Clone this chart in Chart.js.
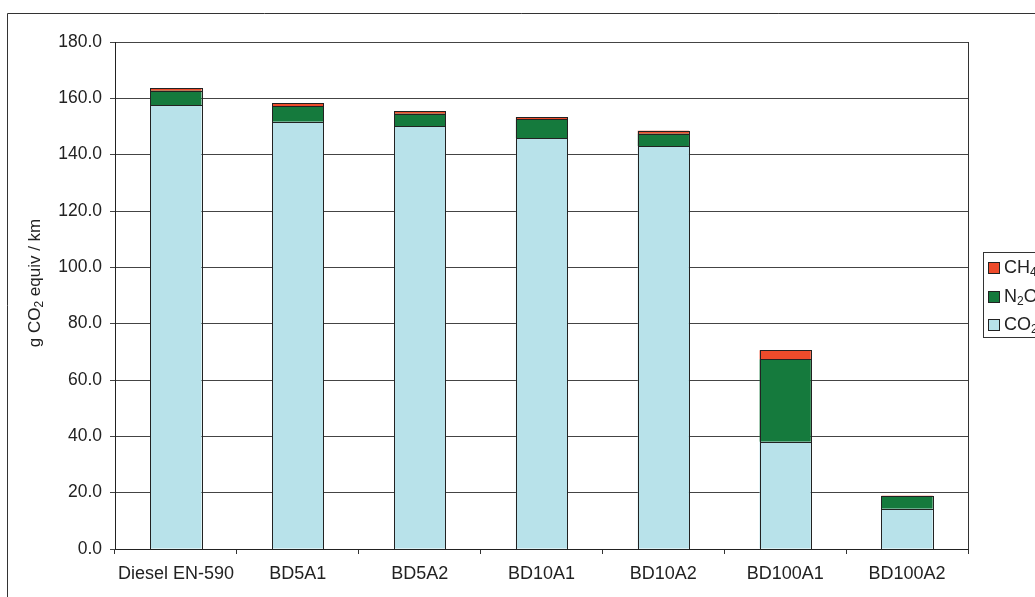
<!DOCTYPE html>
<html>
<head>
<meta charset="utf-8">
<script src="https://cdn.jsdelivr.net/npm/chart.js@4.4.0/dist/chart.umd.min.js"></script>
<style>
html,body{margin:0;padding:0;background:#fff;overflow:hidden;}
#wrap{position:absolute;left:0;top:0;width:1035px;height:597px;}
</style>
</head>
<body>
<div id="wrap"><canvas id="c" width="1035" height="597"></canvas></div>
<script>
const categories = ['Diesel EN-590','BD5A1','BD5A2','BD10A1','BD10A2','BD100A1','BD100A2'];
const co2 = [157.6, 151.7, 150.2, 145.8, 143.1, 38.1, 14.3];
const n2o = [5.1, 5.6, 4.3, 6.8, 4.3, 29.3, 4.5];
const ch4 = [1.0, 0.9, 0.9, 0.8, 1.1, 3.2, 0.1];
const seriesNames = [['CH','4',''],['N','2','O'],['CO','2','']];
const seriesColors = ['#ee4b2b','#157a3d','#b8e2ea'];
const yTickMax = 180, yStep = 20;

const FONT = '"Liberation Sans", Arial, sans-serif';

function drawSub(ctx, parts, x, y, size){
  ctx.font = size + 'px ' + FONT;
  ctx.fillText(parts[0], x, y);
  let w = ctx.measureText(parts[0]).width;
  ctx.font = Math.round(size*0.68) + 'px ' + FONT;
  ctx.fillText(parts[1], x + w, y + size*0.28);
  let w2 = ctx.measureText(parts[1]).width;
  ctx.font = size + 'px ' + FONT;
  ctx.fillText(parts[2], x + w + w2, y);
  return w + w2 + ctx.measureText(parts[2]).width;
}

const outlines = {
  id:'outlines',
  afterDatasetsDraw(chart){
    const ctx = chart.ctx;
    ctx.save();
    ctx.strokeStyle = '#222'; ctx.lineWidth = 1;
    chart.data.datasets.forEach((ds, di) => {
      chart.getDatasetMeta(di).data.forEach(el => {
        const p = el.getProps(['x','y','base','width'], true);
        const l = Math.round(p.x - p.width/2) + 0.5;
        const r = Math.round(p.x + p.width/2) + 0.5;
        const t = Math.round(Math.min(p.y, p.base)) + 0.5;
        const b = Math.round(Math.max(p.y, p.base)) + 0.5;
        ctx.strokeRect(l, t, r - l, b - t);
      });
    });
    ctx.restore();
  }
};

const decor = {
  id:'decor',
  afterDraw(chart){
    const ctx = chart.ctx, ca = chart.chartArea;
    ctx.save();
    ctx.strokeStyle = '#333'; ctx.lineWidth = 1;
    ctx.beginPath();
    ctx.moveTo(7.5, 640); ctx.lineTo(7.5, 13.5); ctx.lineTo(1100, 13.5);
    ctx.stroke();
    ctx.beginPath();
    ctx.moveTo(Math.round(ca.right)+0.5, ca.top); ctx.lineTo(Math.round(ca.right)+0.5, ca.bottom);
    ctx.stroke();
    // y title
    ctx.fillStyle = '#222';
    ctx.textBaseline = 'middle';
    ctx.textAlign = 'left';
    ctx.translate(35, 283);
    ctx.rotate(-Math.PI/2);
    const sz = 17;
    ctx.font = sz + 'px ' + FONT;
    const p1 = 'g CO', p2 = '2', p3 = ' equiv / km';
    const w1 = ctx.measureText(p1).width;
    ctx.font = Math.round(sz*0.68) + 'px ' + FONT;
    const w2 = ctx.measureText(p2).width;
    ctx.font = sz + 'px ' + FONT;
    const w3 = ctx.measureText(p3).width;
    drawSub(ctx, [p1,p2,p3], -(w1+w2+w3)/2, 0, sz);
    ctx.restore();
    // legend
    ctx.save();
    ctx.strokeStyle = '#333'; ctx.lineWidth = 1;
    ctx.strokeRect(983.5, 252.5, 120, 85);
    ctx.textBaseline = 'middle';
    const ys = [268, 297, 325];
    for (let i=0;i<3;i++){
      ctx.fillStyle = seriesColors[i];
      ctx.fillRect(988.5, ys[i]-5.5, 11, 11);
      ctx.strokeStyle = '#222';
      ctx.strokeRect(988.5, ys[i]-5.5, 11, 11);
      ctx.fillStyle = '#222';
      drawSub(ctx, seriesNames[i], 1004, ys[i], 18);
    }
    ctx.restore();
  }
};

new Chart(document.getElementById('c'), {
  type:'bar',
  data:{
    labels: categories,
    datasets:[
      {label:'CO2', data:co2, backgroundColor:seriesColors[2], borderWidth:0},
      {label:'N2O', data:n2o, backgroundColor:seriesColors[1], borderWidth:0},
      {label:'CH4', data:ch4, backgroundColor:seriesColors[0], borderWidth:0}
    ]
  },
  options:{
    responsive:false,
    animation:false,
    events:[],
    layout:{padding:{left:0, top:42, right:67, bottom:0}},
    datasets:{bar:{categoryPercentage:1.0, barPercentage:0.42}},
    plugins:{legend:{display:false}, tooltip:{enabled:false}},
    scales:{
      x:{
        stacked:true,
        grid:{offset:true, drawOnChartArea:false, drawTicks:true, tickLength:5, color:'#333'},
        border:{display:true, color:'#222'},
        ticks:{font:{family:FONT, size:18}, color:'#222', padding:9, maxRotation:0, autoSkip:false},
        afterFit(s){ s.height = 48; }
      },
      y:{
        stacked:true,
        min:0, max:yTickMax,
        grid:{color:'#444', tickLength:5},
        border:{display:true, color:'#222'},
        ticks:{stepSize:yStep, font:{family:FONT, size:17.5}, color:'#222', padding:8, callback:v=>v.toFixed(1)},
        afterFit(s){ s.width = 115; }
      }
    }
  },
  plugins:[outlines, decor]
});
</script>
</body>
</html>
